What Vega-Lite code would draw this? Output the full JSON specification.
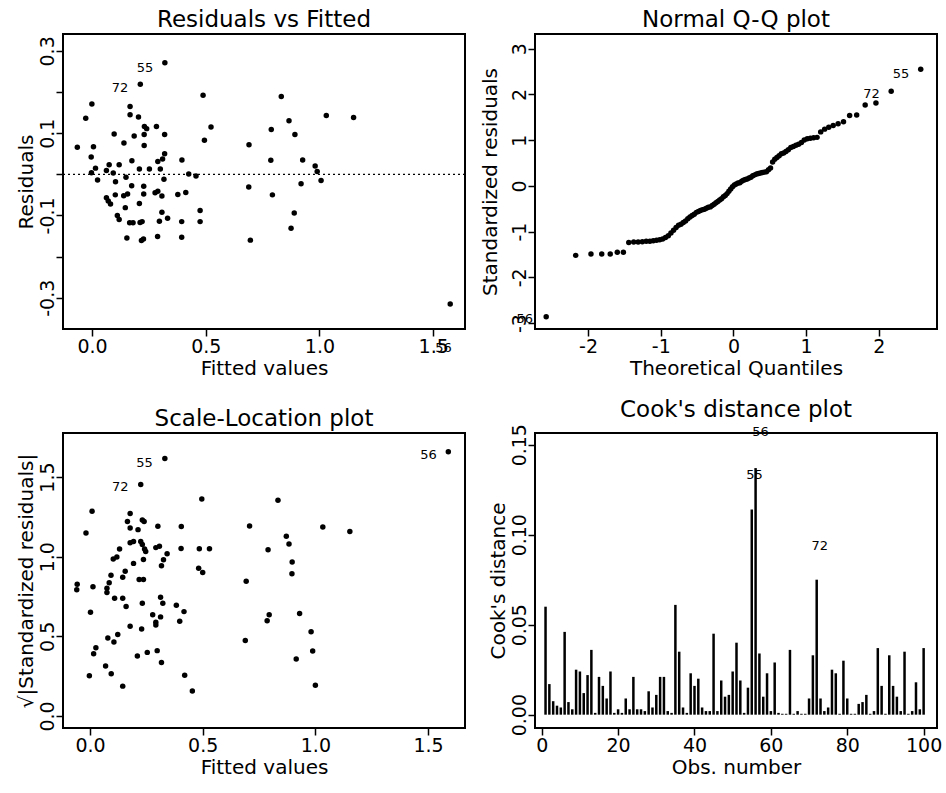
{
  "$schema": "https://vega.github.io/schema/vega-lite/v6.json",
  "background": "white",
  "padding": {"left": 14, "top": 8, "right": 2, "bottom": 2},
  "config": {
    "font": "DejaVu Sans",
    "view": {"stroke": "black", "strokeWidth": 2},
    "axis": {"domain": false, "grid": false, "tickColor": "black", "tickSize": 7, "tickWidth": 1.5, "labelColor": "black", "labelFont": "DejaVu Sans", "labelFontSize": 19, "titleFont": "DejaVu Sans", "titleFontSize": 20, "titleFontWeight": "normal", "titleColor": "black", "labelPadding": 3, "titlePadding": 2, "labelOverlap": false, "labelFlush": false, "labelExpr": "replace(datum.label, '\u2212', '-')"},
    "axisX": {"labelPadding": 1},
    "axisY": {"labelAngle": 270, "labelAlign": "center", "labelBaseline": "alphabetic"},
    "title": {"font": "DejaVu Sans", "fontSize": 23, "fontWeight": "normal", "color": "black", "frame": "group", "baseline": "alphabetic", "offset": 2, "anchor": "middle"},
    "point": {"filled": true, "color": "black", "size": 30, "opacity": 1},
    "text": {"font": "DejaVu Sans", "fontSize": 13, "color": "black"}
  },
  "datasets": {
    "rf": [
      {"x": 0.32, "y": 0.271}, {"x": 0.212, "y": 0.219}, {"x": 0.488, "y": 0.192}, {"x": -0.001, "y": 0.171}, {"x": 0.167, "y": 0.165},
      {"x": 0.167, "y": 0.145}, {"x": 0.204, "y": 0.139}, {"x": -0.028, "y": 0.136}, {"x": 0.23, "y": 0.116}, {"x": 0.24, "y": 0.111},
      {"x": 0.283, "y": 0.116}, {"x": 0.523, "y": 0.115}, {"x": 0.097, "y": 0.098}, {"x": 0.185, "y": 0.093}, {"x": 0.229, "y": 0.097},
      {"x": 0.319, "y": 0.097}, {"x": 0.494, "y": 0.083}, {"x": 0.14, "y": 0.076}, {"x": -0.065, "y": 0.066}, {"x": 0.006, "y": 0.067},
      {"x": 0.229, "y": 0.07}, {"x": 0.69, "y": 0.072}, {"x": -0.004, "y": 0.042}, {"x": 0.319, "y": 0.05}, {"x": 0.175, "y": 0.033},
      {"x": 0.289, "y": 0.031}, {"x": 0.31, "y": 0.037}, {"x": 0.395, "y": 0.035}, {"x": 0.075, "y": 0.023}, {"x": 0.119, "y": 0.023},
      {"x": 0.015, "y": 0.015}, {"x": 0.063, "y": 0.009}, {"x": 0.208, "y": 0.013}, {"x": 0.252, "y": 0.013}, {"x": 0.3, "y": 0.013},
      {"x": -0.003, "y": 0.004}, {"x": 0.093, "y": 0.003}, {"x": 0.425, "y": 0.001}, {"x": 0.457, "y": -0.004}, {"x": 0.149, "y": -0.007},
      {"x": 0.832, "y": 0.189}, {"x": 1.03, "y": 0.143}, {"x": 1.15, "y": 0.138}, {"x": 0.866, "y": 0.13}, {"x": 0.788, "y": 0.109},
      {"x": 0.892, "y": 0.097}, {"x": 0.786, "y": 0.034}, {"x": 0.926, "y": 0.035}, {"x": 0.981, "y": 0.02}, {"x": 0.99, "y": 0.007},
      {"x": 1.007, "y": -0.015}, {"x": 0.919, "y": -0.023}, {"x": 0.689, "y": -0.031}, {"x": 0.793, "y": -0.05}, {"x": 0.024, "y": -0.014},
      {"x": 0.103, "y": -0.018}, {"x": 0.174, "y": -0.028}, {"x": 0.227, "y": -0.029}, {"x": 0.316, "y": -0.012}, {"x": 0.277, "y": -0.045},
      {"x": 0.289, "y": -0.041}, {"x": 0.063, "y": -0.057}, {"x": 0.071, "y": -0.065}, {"x": 0.081, "y": -0.072}, {"x": 0.102, "y": -0.05},
      {"x": 0.139, "y": -0.052}, {"x": 0.156, "y": -0.048}, {"x": 0.227, "y": -0.048}, {"x": 0.307, "y": -0.053}, {"x": 0.377, "y": -0.049},
      {"x": 0.412, "y": -0.044}, {"x": 0.208, "y": -0.071}, {"x": 0.146, "y": -0.081}, {"x": 0.307, "y": -0.092}, {"x": 0.475, "y": -0.088},
      {"x": 0.111, "y": -0.1}, {"x": 0.119, "y": -0.11}, {"x": 0.332, "y": -0.107}, {"x": 0.165, "y": -0.118}, {"x": 0.18, "y": -0.118},
      {"x": 0.211, "y": -0.117}, {"x": 0.22, "y": -0.115}, {"x": 0.296, "y": -0.114}, {"x": 0.394, "y": -0.115}, {"x": 0.475, "y": -0.115},
      {"x": 0.153, "y": -0.155}, {"x": 0.217, "y": -0.161}, {"x": 0.226, "y": -0.157}, {"x": 0.288, "y": -0.151}, {"x": 0.394, "y": -0.153},
      {"x": 0.696, "y": -0.16}, {"x": 0.889, "y": -0.094}, {"x": 0.875, "y": -0.131}, {"x": 1.575, "y": -0.315}
    ],
    "rf_lab": [
      {"x": 0.233, "y": 0.259, "t": "55"}, {"x": 0.123, "y": 0.2105, "t": "72"}, {"x": 1.545, "y": -0.422, "t": "56"}
    ],
    "qq": [
      {"x": -2.576, "y": -2.86}, {"x": -2.17, "y": -1.52}, {"x": -1.96, "y": -1.49}, {"x": -1.812, "y": -1.49}, {"x": -1.695, "y": -1.49},
      {"x": -1.598, "y": -1.45}, {"x": -1.514, "y": -1.45}, {"x": -1.44, "y": -1.24}, {"x": -1.372, "y": -1.23}, {"x": -1.311, "y": -1.23},
      {"x": -1.254, "y": -1.22}, {"x": -1.2, "y": -1.21}, {"x": -1.15, "y": -1.21}, {"x": -1.103, "y": -1.2}, {"x": -1.058, "y": -1.19},
      {"x": -1.015, "y": -1.18}, {"x": -0.974, "y": -1.16}, {"x": -0.935, "y": -1.13}, {"x": -0.896, "y": -1.09}, {"x": -0.86, "y": -1.03},
      {"x": -0.824, "y": -0.97}, {"x": -0.789, "y": -0.91}, {"x": -0.755, "y": -0.86}, {"x": -0.722, "y": -0.84}, {"x": -0.69, "y": -0.8},
      {"x": -0.659, "y": -0.77}, {"x": -0.628, "y": -0.72}, {"x": -0.598, "y": -0.68}, {"x": -0.568, "y": -0.65}, {"x": -0.539, "y": -0.62},
      {"x": -0.51, "y": -0.58}, {"x": -0.482, "y": -0.56}, {"x": -0.454, "y": -0.54}, {"x": -0.426, "y": -0.52}, {"x": -0.399, "y": -0.51},
      {"x": -0.372, "y": -0.49}, {"x": -0.345, "y": -0.47}, {"x": -0.319, "y": -0.46}, {"x": -0.292, "y": -0.43}, {"x": -0.266, "y": -0.4},
      {"x": -0.24, "y": -0.37}, {"x": -0.215, "y": -0.34}, {"x": -0.189, "y": -0.31}, {"x": -0.164, "y": -0.28}, {"x": -0.138, "y": -0.24},
      {"x": -0.113, "y": -0.21}, {"x": -0.088, "y": -0.17}, {"x": -0.063, "y": -0.12}, {"x": -0.038, "y": -0.07}, {"x": -0.013, "y": -0.02},
      {"x": 0.013, "y": 0.02}, {"x": 0.038, "y": 0.04}, {"x": 0.063, "y": 0.06}, {"x": 0.088, "y": 0.07}, {"x": 0.113, "y": 0.1},
      {"x": 0.138, "y": 0.12}, {"x": 0.164, "y": 0.14}, {"x": 0.189, "y": 0.15}, {"x": 0.215, "y": 0.17}, {"x": 0.24, "y": 0.19},
      {"x": 0.266, "y": 0.22}, {"x": 0.292, "y": 0.24}, {"x": 0.319, "y": 0.26}, {"x": 0.345, "y": 0.27}, {"x": 0.372, "y": 0.28},
      {"x": 0.399, "y": 0.29}, {"x": 0.426, "y": 0.3}, {"x": 0.454, "y": 0.31}, {"x": 0.482, "y": 0.35}, {"x": 0.51, "y": 0.39},
      {"x": 0.539, "y": 0.52}, {"x": 0.568, "y": 0.58}, {"x": 0.598, "y": 0.62}, {"x": 0.628, "y": 0.66}, {"x": 0.659, "y": 0.7},
      {"x": 0.69, "y": 0.72}, {"x": 0.722, "y": 0.75}, {"x": 0.755, "y": 0.79}, {"x": 0.789, "y": 0.84}, {"x": 0.824, "y": 0.86},
      {"x": 0.86, "y": 0.89}, {"x": 0.896, "y": 0.91}, {"x": 0.935, "y": 0.95}, {"x": 0.974, "y": 1.0}, {"x": 1.015, "y": 1.03},
      {"x": 1.058, "y": 1.04}, {"x": 1.103, "y": 1.05}, {"x": 1.15, "y": 1.06}, {"x": 1.2, "y": 1.18}, {"x": 1.254, "y": 1.24},
      {"x": 1.311, "y": 1.28}, {"x": 1.372, "y": 1.32}, {"x": 1.44, "y": 1.36}, {"x": 1.514, "y": 1.4}, {"x": 1.598, "y": 1.54},
      {"x": 1.695, "y": 1.55}, {"x": 1.812, "y": 1.77}, {"x": 1.96, "y": 1.81}, {"x": 2.17, "y": 2.07}, {"x": 2.576, "y": 2.55}
    ],
    "qq_lab": [
      {"x": 2.306, "y": 2.437, "t": "55"}, {"x": 1.9, "y": 2.01, "t": "72"}, {"x": -2.87, "y": -2.92, "t": "56"}
    ],
    "sl": [
      {"x": 0.332, "y": 1.617}, {"x": 0.225, "y": 1.454}, {"x": 0.496, "y": 1.363}, {"x": 0.009, "y": 1.285}, {"x": 0.178, "y": 1.271},
      {"x": 0.166, "y": 1.221}, {"x": 0.232, "y": 1.231}, {"x": 0.24, "y": 1.221}, {"x": 0.178, "y": 1.18}, {"x": 0.213, "y": 1.17},
      {"x": 0.301, "y": 1.191}, {"x": 0.405, "y": 1.189}, {"x": 0.708, "y": 1.193}, {"x": -0.018, "y": 1.149}, {"x": 0.178, "y": 1.088},
      {"x": 0.193, "y": 1.096}, {"x": 0.225, "y": 1.096}, {"x": 0.232, "y": 1.076}, {"x": 0.242, "y": 1.048}, {"x": 0.247, "y": 1.033},
      {"x": 0.292, "y": 1.057}, {"x": 0.308, "y": 1.065}, {"x": 0.404, "y": 1.052}, {"x": 0.485, "y": 1.05}, {"x": 0.53, "y": 1.05},
      {"x": 0.131, "y": 1.048}, {"x": 0.342, "y": 1.019}, {"x": 0.103, "y": 0.985}, {"x": 0.119, "y": 0.998}, {"x": 0.237, "y": 0.983},
      {"x": 0.326, "y": 0.981}, {"x": 0.193, "y": 0.958}, {"x": 0.317, "y": 0.943}, {"x": 0.482, "y": 0.928}, {"x": 0.5, "y": 0.901},
      {"x": 0.156, "y": 0.909}, {"x": 0.093, "y": 0.884}, {"x": 0.145, "y": 0.871}, {"x": 0.218, "y": 0.857}, {"x": 0.237, "y": 0.857},
      {"x": -0.057, "y": 0.827}, {"x": 0.013, "y": 0.811}, {"x": 0.085, "y": 0.836}, {"x": 0.693, "y": 0.846}, {"x": 0.834, "y": 1.355},
      {"x": 1.033, "y": 1.187}, {"x": 1.153, "y": 1.159}, {"x": 0.871, "y": 1.128}, {"x": 0.883, "y": 1.08}, {"x": 0.79, "y": 1.044},
      {"x": 0.897, "y": 0.966}, {"x": 0.896, "y": 0.893}, {"x": 1.59, "y": 1.659}, {"x": -0.059, "y": 0.792}, {"x": 0.075, "y": 0.802},
      {"x": 0.075, "y": 0.775}, {"x": 0.109, "y": 0.739}, {"x": 0.145, "y": 0.739}, {"x": 0.16, "y": 0.687}, {"x": 0.232, "y": 0.708},
      {"x": 0.313, "y": 0.746}, {"x": 0.323, "y": 0.708}, {"x": 0.383, "y": 0.695}, {"x": 0.417, "y": 0.655}, {"x": 0.002, "y": 0.651},
      {"x": 0.278, "y": 0.635}, {"x": 0.313, "y": 0.622}, {"x": 0.292, "y": 0.588}, {"x": 0.292, "y": 0.571}, {"x": 0.398, "y": 0.594},
      {"x": 0.178, "y": 0.563}, {"x": 0.229, "y": 0.546}, {"x": 0.123, "y": 0.512}, {"x": 0.079, "y": 0.49}, {"x": 0.106, "y": 0.464},
      {"x": 0.026, "y": 0.428}, {"x": 0.016, "y": 0.391}, {"x": 0.21, "y": 0.376}, {"x": 0.254, "y": 0.399}, {"x": 0.298, "y": 0.41},
      {"x": 0.317, "y": 0.336}, {"x": 0.069, "y": 0.313}, {"x": -0.003, "y": 0.252}, {"x": 0.094, "y": 0.265}, {"x": 0.42, "y": 0.256},
      {"x": 0.145, "y": 0.187}, {"x": 0.454, "y": 0.156}, {"x": 0.689, "y": 0.474}, {"x": 0.795, "y": 0.635}, {"x": 0.786, "y": 0.597},
      {"x": 0.93, "y": 0.643}, {"x": 0.981, "y": 0.529}, {"x": 0.988, "y": 0.408}, {"x": 0.915, "y": 0.357}, {"x": 1.0, "y": 0.193}
    ],
    "sl_lab": [
      {"x": 0.242, "y": 1.59, "t": "55"}, {"x": 0.134, "y": 1.439, "t": "72"}, {"x": 1.502, "y": 1.638, "t": "56"}
    ],
    "cook": [
      {"x": 1, "y": 0.06}, {"x": 2, "y": 0.017}, {"x": 3, "y": 0.0075}, {"x": 4, "y": 0.005}, {"x": 5, "y": 0.004},
      {"x": 6, "y": 0.046}, {"x": 7, "y": 0.007}, {"x": 8, "y": 0.003}, {"x": 9, "y": 0.025}, {"x": 10, "y": 0.024},
      {"x": 11, "y": 0.012}, {"x": 12, "y": 0.022}, {"x": 13, "y": 0.036}, {"x": 14, "y": 0.001}, {"x": 15, "y": 0.021},
      {"x": 16, "y": 0.016}, {"x": 17, "y": 0.009}, {"x": 18, "y": 0.024}, {"x": 19, "y": 0.001}, {"x": 20, "y": 0.003},
      {"x": 21, "y": 0.001}, {"x": 22, "y": 0.009}, {"x": 23, "y": 0.003}, {"x": 24, "y": 0.021}, {"x": 25, "y": 0.003},
      {"x": 26, "y": 0.003}, {"x": 27, "y": 0.002}, {"x": 28, "y": 0.013}, {"x": 29, "y": 0.004}, {"x": 30, "y": 0.011},
      {"x": 31, "y": 0.021}, {"x": 32, "y": 0.021}, {"x": 33, "y": 0.002}, {"x": 34, "y": 0.001}, {"x": 35, "y": 0.061},
      {"x": 36, "y": 0.035}, {"x": 37, "y": 0.004}, {"x": 38, "y": 0.001}, {"x": 39, "y": 0.023}, {"x": 40, "y": 0.016},
      {"x": 41, "y": 0.02}, {"x": 42, "y": 0.004}, {"x": 43, "y": 0.002}, {"x": 44, "y": 0.002}, {"x": 45, "y": 0.045},
      {"x": 46, "y": 0.002}, {"x": 47, "y": 0.019}, {"x": 48, "y": 0.01}, {"x": 49, "y": 0.011}, {"x": 50, "y": 0.024},
      {"x": 51, "y": 0.04}, {"x": 52, "y": 0.019}, {"x": 53, "y": 0.001}, {"x": 54, "y": 0.015}, {"x": 55, "y": 0.114},
      {"x": 56, "y": 0.137}, {"x": 57, "y": 0.034}, {"x": 58, "y": 0.01}, {"x": 59, "y": 0.023}, {"x": 60, "y": 0.002},
      {"x": 61, "y": 0.029}, {"x": 62, "y": 0.001}, {"x": 63, "y": 0.0005}, {"x": 64, "y": 0.0005}, {"x": 65, "y": 0.036},
      {"x": 66, "y": 0.0005}, {"x": 67, "y": 0.002}, {"x": 68, "y": 0.0005}, {"x": 69, "y": 0.0005}, {"x": 70, "y": 0.009},
      {"x": 71, "y": 0.033}, {"x": 72, "y": 0.075}, {"x": 73, "y": 0.009}, {"x": 74, "y": 0.002}, {"x": 75, "y": 0.004},
      {"x": 76, "y": 0.025}, {"x": 77, "y": 0.023}, {"x": 78, "y": 0.0005}, {"x": 79, "y": 0.03}, {"x": 80, "y": 0.009},
      {"x": 81, "y": 0.0005}, {"x": 82, "y": 0.0005}, {"x": 83, "y": 0.006}, {"x": 84, "y": 0.007}, {"x": 85, "y": 0.011},
      {"x": 86, "y": 0.0005}, {"x": 87, "y": 0.002}, {"x": 88, "y": 0.037}, {"x": 89, "y": 0.016}, {"x": 90, "y": 0.0005},
      {"x": 91, "y": 0.033}, {"x": 92, "y": 0.016}, {"x": 93, "y": 0.01}, {"x": 94, "y": 0.002}, {"x": 95, "y": 0.035},
      {"x": 96, "y": 0.0005}, {"x": 97, "y": 0.002}, {"x": 98, "y": 0.018}, {"x": 99, "y": 0.003}, {"x": 100, "y": 0.037}
    ],
    "cook_lab": [
      {"x": 55.7, "y": 0.1333, "t": "55"}, {"x": 57.3, "y": 0.157, "t": "56"}, {"x": 72.8, "y": 0.0936, "t": "72"}
    ],
    "zero": [{"y": 0}]
  },
  "columns": 2,
  "bounds": "flush",
  "spacing": {"row": 104, "column": 70},
  "concat": [
    {
      "width": 402, "height": 295,
      "title": {"text": "Residuals vs Fitted"},
      "layer": [
        {
          "data": {"name": "zero"},
          "mark": {"type": "rule", "strokeDash": [2, 3], "strokeWidth": 1.2, "color": "black"},
          "encoding": {
            "y": {"field": "y", "type": "quantitative", "scale": {"domain": [-0.376, 0.341], "nice": false, "zero": false}, "axis": {"values": [-0.3, -0.2, -0.1, 0, 0.1, 0.2, 0.3], "format": ".1f", "labelExpr": "abs((datum.value * 10) % 2) > 0.5 ? replace(datum.label, '\u2212', '-') : ''", "title": "Residuals"}}
          }
        },
        {
          "data": {"name": "rf"},
          "mark": "point",
          "encoding": {
            "x": {"field": "x", "type": "quantitative", "scale": {"domain": [-0.128, 1.64], "nice": false, "zero": false}, "axis": {"values": [0, 0.5, 1, 1.5], "format": ".1f", "title": "Fitted values"}},
            "y": {"field": "y", "type": "quantitative"}
          }
        },
        {
          "data": {"name": "rf_lab"},
          "mark": {"type": "text"},
          "encoding": {
            "x": {"field": "x", "type": "quantitative"},
            "y": {"field": "y", "type": "quantitative"},
            "text": {"field": "t"}
          }
        }
      ]
    },
    {
      "width": 402, "height": 295,
      "title": {"text": "Normal Q-Q plot"},
      "encoding": {
        "x": {"field": "x", "type": "quantitative", "scale": {"domain": [-2.73, 2.8], "nice": false, "zero": false}, "axis": {"values": [-2, -1, 0, 1, 2], "format": "d", "title": "Theoretical Quantiles"}},
        "y": {"field": "y", "type": "quantitative", "scale": {"domain": [-3.13, 3.32], "nice": false, "zero": false}, "axis": {"values": [-3, -2, -1, 0, 1, 2, 3], "format": "d", "title": "Standardized residuals", "titlePadding": 10}}
      },
      "layer": [
        {"data": {"name": "qq"}, "mark": "point"},
        {"data": {"name": "qq_lab"}, "mark": {"type": "text"}, "encoding": {"text": {"field": "t"}}}
      ]
    },
    {
      "width": 402, "height": 295,
      "title": {"text": "Scale-Location plot"},
      "encoding": {
        "x": {"field": "x", "type": "quantitative", "scale": {"domain": [-0.12, 1.664], "nice": false, "zero": false}, "axis": {"values": [0, 0.5, 1, 1.5], "format": ".1f", "title": "Fitted values"}},
        "y": {"field": "y", "type": "quantitative", "scale": {"domain": [-0.076, 1.777], "nice": false, "zero": false}, "axis": {"values": [0, 0.5, 1, 1.5], "format": ".1f", "title": "√|Standardized residuals|"}}
      },
      "layer": [
        {"data": {"name": "sl"}, "mark": "point"},
        {"data": {"name": "sl_lab"}, "mark": {"type": "text"}, "encoding": {"text": {"field": "t"}}}
      ]
    },
    {
      "width": 402, "height": 295,
      "title": {"text": "Cook's distance plot"},
      "encoding": {
        "x": {"field": "x", "type": "quantitative", "scale": {"domain": [-1.76, 103.5], "nice": false, "zero": false}, "axis": {"values": [0, 20, 40, 60, 80, 100], "format": "d", "title": "Obs. number"}},
        "y": {"field": "y", "type": "quantitative", "scale": {"domain": [-0.0074, 0.1565], "nice": false, "zero": false}, "axis": {"values": [0, 0.05, 0.1, 0.15], "format": ".2f", "title": "Cook's distance"}}
      },
      "layer": [
        {"data": {"name": "cook"}, "mark": {"type": "rule", "strokeWidth": 2.5, "color": "black"}, "encoding": {"y2": {"datum": 0}}},
        {"data": {"name": "cook_lab"}, "mark": {"type": "text"}, "encoding": {"text": {"field": "t"}}}
      ]
    }
  ]
}
